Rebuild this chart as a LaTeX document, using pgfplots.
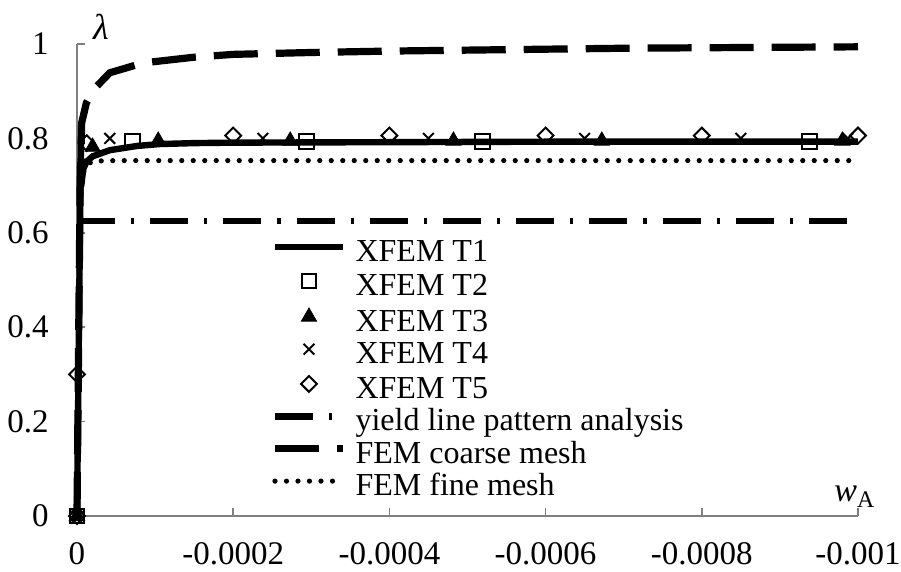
\documentclass[border=0pt]{standalone}
\usepackage{fontspec}
\setmainfont{Liberation Serif}
\usepackage{pgfplots}
\pgfplotsset{compat=1.18}

\begin{document}
\begin{tikzpicture}
\useasboundingbox (-38.5pt,-28pt) rectangle (412pt,258pt);
\begin{axis}[
  scale only axis, width=390.5pt, height=236pt,
  xmin=-0.001, xmax=0, ymin=0, ymax=1,
  x dir=reverse,
  axis x line*=bottom, axis y line*=left,
  axis line style={draw=gray, line width=0.75pt, -},
  xtick={-0.001,-0.0008,-0.0006,-0.0004,-0.0002,0},
  xticklabels={-0.001,-0.0008,-0.0006,-0.0004,-0.0002,0},
  ytick={0,0.2,0.4,0.6,0.8,1},
  yticklabels={0,0.2,0.4,0.6,0.8,1},
  scaled x ticks=false,
  tick align=inside, major tick length=4pt,
  tick style={draw=gray, line width=0.75pt},
  ticklabel style={font=\fontsize{16.5}{18}\selectfont, inner sep=0pt},
  xticklabel style={anchor=north, yshift=-13pt},
  yticklabel style={anchor=east, xshift=-14pt},
  clip=false,
  legend style={draw=none, fill=none, at={(0.2484,0.306)}, anchor=west,
    inner sep=0pt, row sep=3.2pt, column sep=4.5pt,
    font=\fontsize{16}{18}\selectfont,
    nodes={inner sep=0pt, text height=10pt, text depth=3pt}},
  legend cell align=left,
  legend image code/.code={\draw[mark repeat=2,mark phase=2,#1] plot coordinates {(0pt,3.7pt) (17pt,3.7pt) (34pt,3.7pt)};},
]
% XFEM T1
\addplot[black, line width=3.2pt, line join=round, no markers] coordinates {
 (0,0) (-0.000005,0.797) (-0.0000055,0.70) (-0.000008,0.735) (-0.000012,0.75)
 (-0.00002,0.762) (-0.000042,0.775) (-0.000077,0.784) (-0.000106,0.788)
 (-0.00015,0.790) (-0.0002,0.791) (-0.0004,0.792) (-0.0006,0.793) (-0.0008,0.793) (-0.001,0.793)};
\addlegendentry{XFEM T1}
% XFEM T2
\addplot[black, only marks, mark=square, mark size=3.6pt, mark options={line width=1pt}] coordinates {
 (0,0) (-0.000071,0.795) (-0.000294,0.793) (-0.000519,0.793) (-0.000938,0.793)};
\addlegendentry{XFEM T2}
% XFEM T3
\addplot[black, only marks, mark=triangle*, mark size=4.4pt] coordinates {
 (0,0) (-0.00002,0.782) (-0.000104,0.795) (-0.000273,0.795) (-0.000482,0.795) (-0.000672,0.795) (-0.00098,0.795)};
\addlegendentry{XFEM T3}
% XFEM T4
\addplot[black, only marks, mark=x, mark size=3.8pt, mark options={line width=1pt}] coordinates {
 (0,0) (-0.000042,0.80) (-0.000238,0.80) (-0.00045,0.80) (-0.00065,0.80) (-0.00085,0.80) (-0.000987,0.80)};
\addlegendentry{XFEM T4}
% XFEM T5
\addplot[black, only marks, mark=square, mark size=2.8pt, mark options={rotate=45, line width=1pt}] coordinates {
 (0,0) (0,0.3) (-0.0000125,0.79) (-0.0002,0.806) (-0.0004,0.806) (-0.0006,0.806) (-0.0008,0.806) (-0.001,0.806)};
\addlegendentry{XFEM T5}
% yield line pattern analysis
\addplot[black, line width=3.4pt, dash pattern=on 19pt off 8pt on 1.6pt off 8pt, no markers] coordinates {
 (0,0.625) (-0.001,0.625)};
\addlegendentry{yield line pattern analysis}
% FEM coarse mesh
\addplot[black, line width=3.6pt, dash pattern=on 22pt off 9pt, no markers] coordinates {
 (0,0) (-0.000004,0.7) (-0.000006,0.833) (-0.000012,0.875) (-0.000021,0.903)
 (-0.000042,0.939) (-0.000085,0.96) (-0.00015,0.972) (-0.0002,0.978) (-0.0003,0.982)
 (-0.0004,0.985) (-0.0005,0.987) (-0.0006,0.989) (-0.0007,0.991) (-0.0008,0.992)
 (-0.0009,0.993) (-0.001,0.994)};
\addlegendentry{FEM coarse mesh}
% FEM fine mesh
\addplot[black, line width=2.6pt, line cap=round, dash pattern=on 0pt off 5.75pt, no markers] coordinates {
 (0,0) (-0.000005,0.70) (-0.00001,0.74) (-0.00002,0.752) (-0.00005,0.753) (-0.001,0.753)};
\addlegendentry{FEM fine mesh}

\node[font=\fontsize{18}{20}\selectfont\itshape, anchor=center] at ([xshift=12pt,yshift=8.5pt]rel axis cs:0,1) {λ};
\node[font=\fontsize{17}{19}\selectfont, anchor=base west, inner sep=0pt] at ([xshift=-12pt,yshift=7pt]rel axis cs:1,0) {\textit{w}\textsubscript{A}};
\end{axis}
\end{tikzpicture}
\end{document}
